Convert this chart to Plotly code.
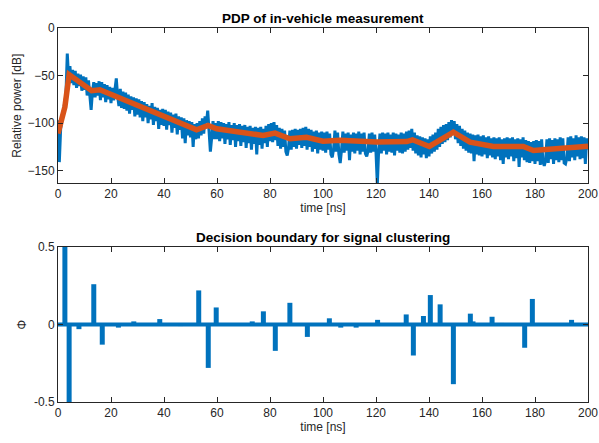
import numpy as np
import plotly.graph_objects as go
from plotly.subplots import make_subplots

# measured PDP, sampled every 0.5 ns from 0 to 200 ns
pdp_db = [
    -97, -141, -106, -96, -90, -78, -70, -27, -52, -40, -58, -44, -60, -45, -63, -48, -61, -49, -66, -51,
    -65, -52, -71, -55, -76, -86, -67, -57, -73, -58, -71, -56, -76, -57, -73, -59, -78, -60, -75, -62,
    -79, -63, -76, -60, -53, -72, -82, -64, -84, -67, -85, -68, -87, -70, -90, -72, -86, -73, -93, -74,
    -91, -75, -94, -77, -98, -78, -94, -80, -100, -82, -96, -79, -102, -83, -98, -84, -106, -86, -102, -85,
    -103, -86, -107, -88, -102, -89, -110, -91, -105, -90, -112, -93, -107, -94, -116, -95, -121, -97, -113, -98,
    -115, -99, -125, -101, -117, -100, -116, -98, -113, -95, -111, -93, -100, -87, -113, -130, -115, -98, -117, -100,
    -117, -98, -119, -99, -116, -100, -122, -101, -117, -99, -123, -102, -118, -100, -125, -102, -119, -101, -124, -103,
    -120, -102, -126, -104, -121, -103, -128, -105, -122, -104, -133, -105, -123, -104, -127, -106, -121, -103, -125, -101,
    -119, -100, -120, -99, -118, -102, -124, -105, -127, -106, -125, -108, -130, -134, -126, -108, -128, -107, -125, -106,
    -127, -107, -123, -106, -126, -105, -124, -104, -128, -106, -125, -107, -130, -109, -127, -108, -132, -110, -128, -109,
    -129, -110, -131, -109, -128, -111, -133, -136, -127, -108, -130, -110, -133, -142, -128, -109, -131, -111, -129, -110,
    -139, -112, -130, -110, -132, -111, -129, -109, -133, -111, -130, -110, -132, -135, -129, -111, -131, -110, -130, -112,
    -131, -165, -129, -111, -132, -110, -129, -111, -133, -110, -130, -112, -131, -110, -134, -111, -129, -112, -131, -110,
    -132, -111, -130, -109, -128, -108, -126, -106, -129, -110, -132, -113, -134, -114, -136, -115, -133, -116, -137, -117,
    -135, -114, -132, -112, -130, -110, -128, -106, -125, -104, -122, -102, -120, -101, -118, -99, -115, -97, -111, -98,
    -117, -101, -121, -103, -124, -106, -127, -108, -129, -110, -131, -111, -132, -112, -140, -113, -133, -112, -134, -114,
    -135, -113, -133, -115, -137, -114, -134, -116, -136, -115, -138, -116, -135, -115, -139, -117, -143, -116, -136, -115,
    -138, -116, -135, -115, -140, -117, -137, -116, -146, -117, -136, -115, -139, -118, -141, -119, -142, -120, -140, -119,
    -143, -118, -140, -119, -144, -117, -141, -145, -139, -117, -142, -116, -138, -118, -143, -116, -139, -117, -141, -115,
    -139, -116, -142, -143, -137, -115, -140, -114, -136, -116, -139, -113, -135, -115, -138, -114, -137, -115, -143, -116,
    -128,
]
pdp_time = np.arange(0, 200.5, 0.5)

# piecewise cluster fit (orange)
fit_time = [0, 2.6, 4.2, 12.7, 15.8, 52.3, 56.6, 59.9, 77.4, 81.9, 87.5, 93.8, 100, 106.4, 120.2,
            131.6, 133.8, 140.1, 149.2, 155.5, 164.3, 175.6, 179.4, 200]
fit_db = [-111, -83, -49, -66, -65, -107, -102.5, -106, -113, -110.5, -116.5, -115, -119, -118, -120,
          -119.5, -117.6, -124.6, -109.5, -120, -124.6, -124.6, -128.8, -124.3]

# decision boundary stems
phi_time = [2.6, 4.2, 7.9, 13.5, 16.7, 22.8, 28.6, 38.4, 46.2, 53.1, 56.7, 59.7, 73.3, 77.5, 82.0,
            87.5, 94.1, 101.0, 102.4, 106.7, 112.5, 120.6, 131.4, 134.1, 137.9, 140.5, 144.2, 149.2,
            155.6, 156.6, 163.8, 167.5, 176.1, 179.0, 193.8]
phi_val = [0.9, -0.9, -0.03, 0.26, -0.13, -0.02, 0.02, 0.035, -0.01, 0.22, -0.28, 0.11, 0.02, 0.085, -0.17,
           0.14, -0.08, 0.005, 0.04, -0.02, -0.02, 0.03, 0.065, -0.2, 0.055, 0.19, 0.13, -0.385,
           0.07, 0.02, 0.05, 0.01, -0.15, 0.165, 0.03]

blue = '#0072BD'
orange = '#D95319'
ink = '#262626'
font = 'Liberation Sans, Arial, sans-serif'

fig = make_subplots(rows=2, cols=1, vertical_spacing=0.1712)
fig.update_layout(yaxis=dict(domain=[0.5856, 1]), yaxis2=dict(domain=[0, 0.4144]))

fig.add_trace(go.Scatter(x=pdp_time, y=pdp_db, mode='lines',
                         line=dict(color=blue, width=3)), row=1, col=1)
fig.add_trace(go.Scatter(x=fit_time, y=fit_db, mode='lines',
                         line=dict(color=orange, width=5.5)), row=1, col=1)

sx, sy = [], []
for t, v in zip(phi_time, phi_val):
    sx += [t, t, None]
    sy += [0, v, None]
fig.add_trace(go.Scatter(x=[0, 200], y=[0, 0], mode='lines',
                         line=dict(color=blue, width=4)), row=2, col=1)
fig.add_trace(go.Scatter(x=sx, y=sy, mode='lines',
                         line=dict(color=blue, width=5)), row=2, col=1)

axis_style = dict(showline=True, linecolor=ink, linewidth=1, mirror='ticks',
                  ticks='inside', ticklen=5, tickcolor=ink, showgrid=False,
                  zeroline=False, automargin=False, tickfont=dict(size=12, color=ink))
fig.update_xaxes(range=[0, 200], tickvals=list(range(0, 201, 20)), **axis_style)
fig.update_yaxes(**axis_style)
fig.update_xaxes(title=dict(text='time [ns]', standoff=2, font=dict(size=12, color=ink)))
fig.update_yaxes(range=[-163, 0], tickvals=[-150, -100, -50, 0], row=1, col=1)
fig.update_yaxes(range=[-0.5, 0.5], tickvals=[-0.5, 0, 0.5], ticktext=['-0.5', '0', '0.5'],
                 row=2, col=1)

fig.add_annotation(text='Relative power [dB]', xref='paper', yref='paper', x=-0.077, y=0.7928,
                   xanchor='center', yanchor='middle', textangle=-90, showarrow=False,
                   font=dict(size=12, color=ink))
fig.add_annotation(text='Φ', xref='paper', yref='paper', x=-0.068, y=0.2072,
                   xanchor='center', yanchor='middle', textangle=-90, showarrow=False,
                   font=dict(size=12, color=ink))

fig.add_annotation(text='<b>PDP of in-vehicle measurement</b>', xref='paper', yref='paper',
                   x=0.5, y=1.0, yanchor='bottom', yshift=0, showarrow=False,
                   font=dict(size=13.5, color='black'))
fig.add_annotation(text='<b>Decision boundary for signal clustering</b>', xref='paper', yref='paper',
                   x=0.5, y=0.4144, yanchor='bottom', yshift=0, showarrow=False,
                   font=dict(size=13.5, color='black'))

fig.update_layout(width=599, height=443, showlegend=False, hovermode=False,
                  margin=dict(l=58, r=11, t=28, b=41),
                  paper_bgcolor='white', plot_bgcolor='white',
                  font=dict(family=font, color=ink))

# drop the default 8px page margin so the full figure fits the window
fig.write_html("out.html", config={'displayModeBar': False},
               post_script="document.body.style.margin='0';")
